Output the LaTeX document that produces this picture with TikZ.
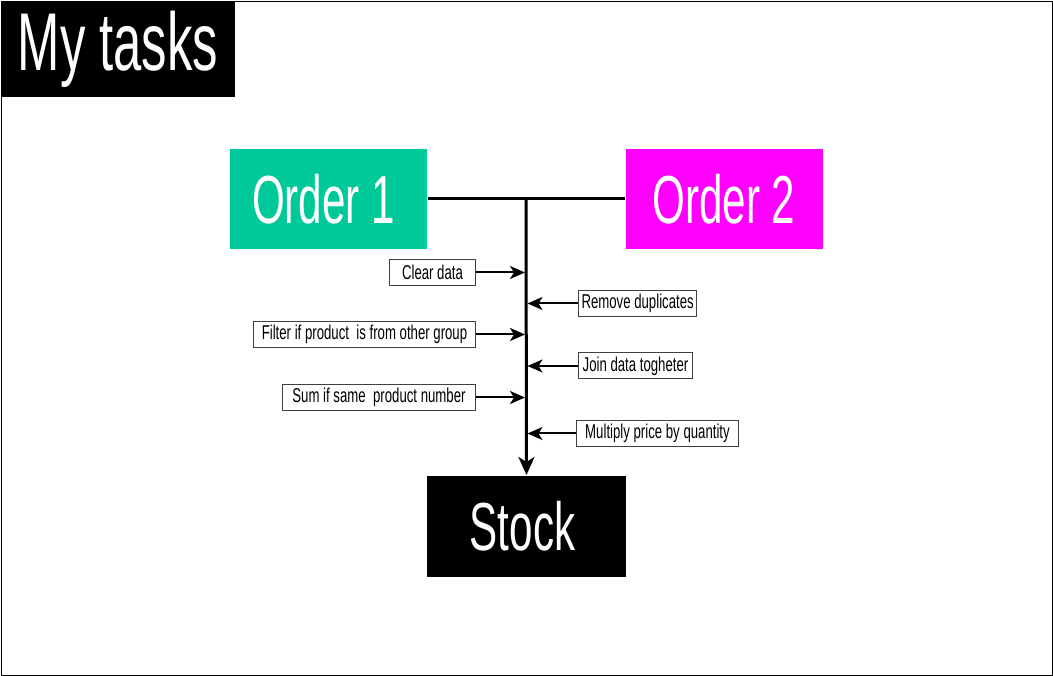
\documentclass[tikz,border=0pt]{standalone}
\usepackage{fontspec}
\setmainfont{Liberation Sans}[FakeStretch=0.62]
\newfontfamily\taskfont{Liberation Sans}[FakeStretch=0.66]
\usepackage{xcolor}
\usetikzlibrary{arrows.meta}
\definecolor{ordergreen}{RGB}{0,201,153}
\definecolor{ordermagenta}{RGB}{255,0,255}
\tikzstyle{bigbox} = [rectangle, minimum width=197, minimum height=100, inner sep=0, text=white, font=\fontsize{68}{68}\selectfont]
\tikzstyle{task} = [rectangle, draw=black!75, line width=1pt, fill=white, minimum height=26, inner xsep=3, inner ysep=0, font=\taskfont\fontsize{20}{20}\selectfont]

\begin{document}
\begin{tikzpicture}[x=1pt,y=-1pt,>={Stealth[length=15pt,width=13pt,inset=4pt]},line width=2pt]
  \useasboundingbox (0,0) rectangle (1053,676);
  \draw[thin] (1,1) rectangle (1052,675);

  \node[fill=black, text=white, anchor=north west, minimum width=234, minimum height=96, inner sep=0, font=\fontsize{82}{82}\selectfont] (title) at (0,0) {My tasks};

  \node[bigbox, fill=ordergreen] (order1) at (328.5,199) {\hspace{-10pt}Order 1};
  \node[bigbox, fill=ordermagenta] (order2) at (724,199) {Order 2};
  \node[bigbox, fill=black, minimum width=199, minimum height=101] (stock) at (526.5,526.5) {\hspace{-8pt}Stock};
  \coordinate (join) at (526,199);

  \draw[line width=3pt] (order1.east) -- (order2.west);
  \draw[line width=3pt,-{Stealth[length=18pt,width=16pt,inset=5pt]}] (join) -- (stock.north);

  % left side steps
  \node[task, anchor=east, minimum width=86] (clear) at (476,272.5) {Clear data};
  \node[task, anchor=east, minimum width=222] (filter) at (476,334.5) {Filter if product~ is from other group};
  \node[task, anchor=east, minimum width=193] (sum) at (476,397.5) {Sum if same~ product number};
  \coordinate (to_clear) at (525,272.5);
  \coordinate (to_filter) at (525,334.5);
  \coordinate (to_sum) at (525,397.5);

  % right side steps
  \node[task, anchor=west, minimum width=115] (dupes) at (578,303.5) {Remove duplicates};
  \node[task, anchor=west, minimum width=114] (joindata) at (578,366) {Join data togheter};
  \node[task, anchor=west, minimum width=162] (multiply) at (576,433.5) {Multiply price by quantity};
  \coordinate (to_dupes) at (527.5,303.5);
  \coordinate (to_joindata) at (527.5,366);
  \coordinate (to_multiply) at (527.5,433.5);

  \path[->] (clear) edge (to_clear);
  \path[->] (filter) edge (to_filter);
  \path[->] (sum) edge (to_sum);
  \path[->] (dupes) edge (to_dupes);
  \path[->] (joindata) edge (to_joindata);
  \path[->] (multiply) edge (to_multiply);
\end{tikzpicture}
\end{document}
